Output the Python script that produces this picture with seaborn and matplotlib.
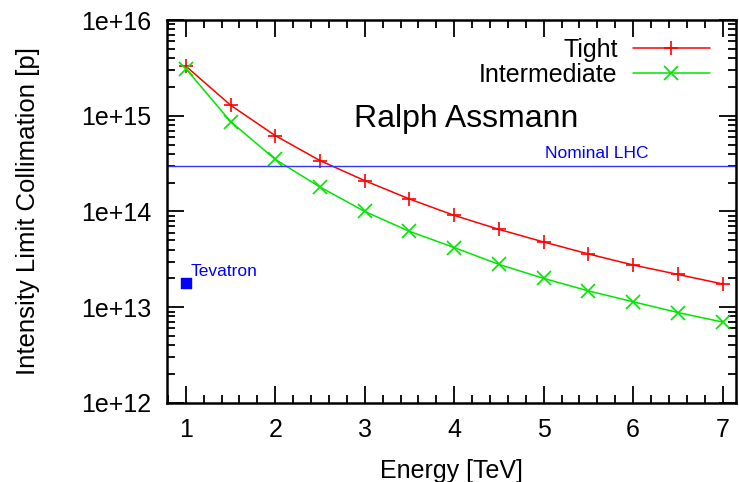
import numpy as np
import pandas as pd
import seaborn as sns
import matplotlib.pyplot as plt
from matplotlib.ticker import MultipleLocator, FuncFormatter, LogLocator, NullFormatter

energy = [1, 1.5, 2, 2.5, 3, 3.5, 4, 4.5, 5, 5.5, 6, 6.5, 7]
tight = [3.3e15, 1.29e15, 6.2e14, 3.4e14, 2.1e14, 1.35e14, 9.1e13, 6.5e13, 4.8e13, 3.6e13, 2.76e13, 2.2e13, 1.75e13]
intermediate = [3.1e15, 8.7e14, 3.5e14, 1.8e14, 1.0e14, 6.2e13, 4.2e13, 2.8e13, 2.0e13, 1.48e13, 1.14e13, 8.8e12, 7.0e12]
nominal_lhc = 3.0e14
tevatron_e = [1]
tevatron_i = [1.8e13]

sns.set_theme(style="ticks")
plt.rcParams['font.family'] = ['Liberation Sans', 'DejaVu Sans']
plt.rcParams['text.color'] = 'black'
plt.rcParams['axes.labelcolor'] = 'black'

df = pd.DataFrame({"Energy": energy, "Tight": tight, "Intermediate": intermediate})

fig = plt.figure(figsize=(7.39, 4.82), dpi=100)
ax = fig.add_axes([0.226, 0.164, 0.77, 0.7945])

sns.lineplot(data=df, x="Energy", y="Tight", ax=ax, color="#ff0000", marker="+",
             markersize=10, markeredgewidth=1.2, markeredgecolor="#ff0000",
             linewidth=1.1, label="Tight")
sns.lineplot(data=df, x="Energy", y="Intermediate", ax=ax, color="#00e600", marker="x",
             markersize=10, markeredgewidth=1.2, markeredgecolor="#00e600",
             linewidth=1.1, label="Intermediate")
ax.axhline(nominal_lhc, color="#3333ff", linewidth=1.0)
ax.scatter(tevatron_e, tevatron_i, marker="s", s=45, color="#0000ff", zorder=3)

ax.text(5.59, 3.35e14, "Nominal LHC", color="#0000ff", fontsize=12.5, ha="center", va="bottom")
ax.text(1.05, 1.95e13, "Tevatron", color="#0000ff", fontsize=12.5, ha="left", va="bottom")
ax.text(4.13, 0.92e15, "Ralph Assmann", color="black", fontsize=23, ha="center", va="center")

ax.set_yscale("log")
ax.set_ylim(1e12, 1e16)
ax.set_xlim(0.79, 7.15)
ax.xaxis.set_major_locator(MultipleLocator(1))
ax.xaxis.set_minor_locator(MultipleLocator(0.2))
ax.yaxis.set_major_locator(LogLocator(base=10, numticks=10))
ax.yaxis.set_minor_locator(LogLocator(base=10, subs=np.arange(2, 10), numticks=20))
ax.yaxis.set_minor_formatter(NullFormatter())
ax.yaxis.set_major_formatter(FuncFormatter(lambda v, p: f"{v:.0e}"))

ax.tick_params(which="both", direction="in", top=True, right=True, width=1.3, colors="black", labelsize=18)
ax.tick_params(which="major", length=12, pad=11)
ax.tick_params(which="minor", length=6)
for s in ax.spines.values():
    s.set_linewidth(1.8)
    s.set_color("black")

ax.set_xlabel("Energy [TeV]", fontsize=18, labelpad=12, color="black")
ax.set_ylabel("Intensity Limit Collimation [p]", fontsize=18.5, labelpad=30, color="black")

ax.legend(loc="upper right", bbox_to_anchor=(0.985, 1.0), frameon=False, markerfirst=False,
          fontsize=18, handlelength=3.1, handletextpad=0.6, labelspacing=0.05, borderaxespad=0.3,
          labelcolor="black")

fig.savefig("out.png", dpi=100)
